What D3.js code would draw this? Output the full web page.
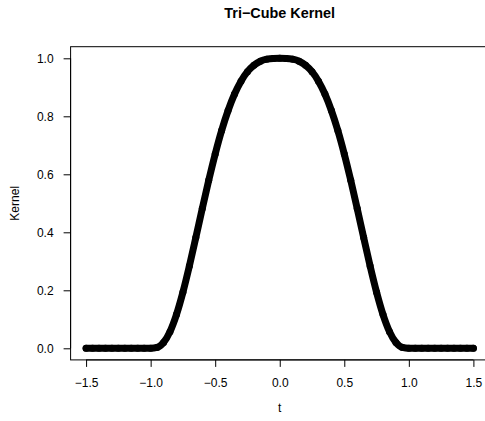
<!DOCTYPE html>
<html>
<head>
<meta charset="utf-8">
<script src="https://cdn.jsdelivr.net/npm/d3@7"></script>
<style>
  html, body { margin: 0; padding: 0; background: #fff; }
  svg { display: block; }
  text { font-family: "Liberation Sans", Arial, Helvetica, sans-serif; fill: #000; }
</style>
</head>
<body>
<svg id="chart" width="485" height="421"></svg>
<script>
// ---- data ----
const tValues = [
  -1.50, -1.45, -1.40, -1.35, -1.30, -1.25, -1.20, -1.15, -1.10, -1.05, -1.00,
  -0.95, -0.90, -0.85, -0.80, -0.75, -0.70, -0.65, -0.60, -0.55, -0.50,
  -0.45, -0.40, -0.35, -0.30, -0.25, -0.20, -0.15, -0.10, -0.05, 0.00,
  0.05, 0.10, 0.15, 0.20, 0.25, 0.30, 0.35, 0.40, 0.45, 0.50,
  0.55, 0.60, 0.65, 0.70, 0.75, 0.80, 0.85, 0.90, 0.95, 1.00,
  1.05, 1.10, 1.15, 1.20, 1.25, 1.30, 1.35, 1.40, 1.45, 1.50
];
const kernelValues = [
  0, 0, 0, 0, 0, 0, 0, 0, 0, 0, 0,
  0.0029, 0.0199, 0.0575, 0.1162, 0.1932, 0.2836, 0.3817, 0.4819, 0.5793, 0.6699,
  0.7508, 0.8200, 0.8768, 0.9212, 0.9539, 0.9762, 0.9899, 0.9970, 0.9996, 1.0000,
  0.9996, 0.9970, 0.9899, 0.9762, 0.9539, 0.9212, 0.8768, 0.8200, 0.7508, 0.6699,
  0.5793, 0.4819, 0.3817, 0.2836, 0.1932, 0.1162, 0.0575, 0.0199, 0.0029, 0,
  0, 0, 0, 0, 0, 0, 0, 0, 0, 0
];
const xTicks = [-1.5, -1.0, -0.5, 0.0, 0.5, 1.0, 1.5];
const yTicks = [0.0, 0.2, 0.4, 0.6, 0.8, 1.0];
const titleText = "Tri\u2212Cube Kernel";
const xLabel = "t";
const yLabel = "Kernel";

// ---- drawing ----
const svg = d3.select("#chart");
const pxPerT = 129.1;
const x = d3.scaleLinear().domain([-1.62, 1.62]).range([70.6, 70.6 + 3.24 * pxPerT]);
const y = d3.scaleLinear().domain([-0.04, 1.04]).range([359.9, 46.7]);

const fmt = v => (v < 0 ? "\u2212" : "") + Math.abs(v).toFixed(1);

// plot box
svg.append("rect")
  .attr("x", x(-1.62)).attr("y", y(1.04))
  .attr("width", x(1.62) - x(-1.62)).attr("height", y(-0.04) - y(1.04))
  .attr("fill", "none").attr("stroke", "#000").attr("stroke-width", 1);

// x axis
const xAxis = d3.axisBottom(x).tickValues(xTicks).tickSize(7).tickPadding(0).tickFormat(fmt);
const gx = svg.append("g").attr("transform", `translate(0,${y(-0.04)})`).call(xAxis);
gx.select(".domain").attr("d", `M${x(-1.5)},0H${x(1.5)}`).attr("stroke", "#000");
gx.selectAll(".tick line").attr("stroke", "#000");
gx.selectAll(".tick text").attr("y", 27.5).attr("dy", null)
  .attr("font-size", 12).attr("font-family", "Liberation Sans, Arial, sans-serif");

// y axis
const yAxis = d3.axisLeft(y).tickValues(yTicks).tickSize(7).tickPadding(0).tickFormat(fmt);
const gy = svg.append("g").attr("transform", `translate(${x(-1.62)},0)`).call(yAxis);
gy.select(".domain").attr("d", `M0,${y(0)}V${y(1)}`).attr("stroke", "#000");
gy.selectAll(".tick line").attr("stroke", "#000");
gy.selectAll(".tick text").attr("x", -17).attr("dy", "0.36em")
  .attr("font-size", 12).attr("font-family", "Liberation Sans, Arial, sans-serif");

// curve (dense points rendered as a thick band)
const pts = tValues.map((t, i) => [t, kernelValues[i]]);
const line = d3.line().x(d => x(d[0])).y(d => y(d[1])).curve(d3.curveMonotoneX);
svg.append("path")
  .datum(pts)
  .attr("d", line)
  .attr("fill", "none")
  .attr("stroke", "#000")
  .attr("stroke-width", 7)
  .attr("stroke-linecap", "round")
  .attr("stroke-linejoin", "round");
svg.append("g").selectAll("circle").data(pts).join("circle")
  .attr("cx", d => x(d[0])).attr("cy", d => y(d[1]))
  .attr("r", 3.5).attr("fill", "#000");

// title and labels
svg.append("text").attr("x", x(0)).attr("y", 18)
  .attr("text-anchor", "middle").attr("font-weight", "bold").attr("font-size", 14.4)
  .text(titleText);
svg.append("text").attr("x", x(0)).attr("y", 412)
  .attr("text-anchor", "middle").attr("font-size", 12).text(xLabel);
svg.append("text")
  .attr("transform", `translate(19,${(y(-0.04) + y(1.04)) / 2}) rotate(-90)`)
  .attr("text-anchor", "middle").attr("font-size", 12).text(yLabel);
</script>
</body>
</html>
